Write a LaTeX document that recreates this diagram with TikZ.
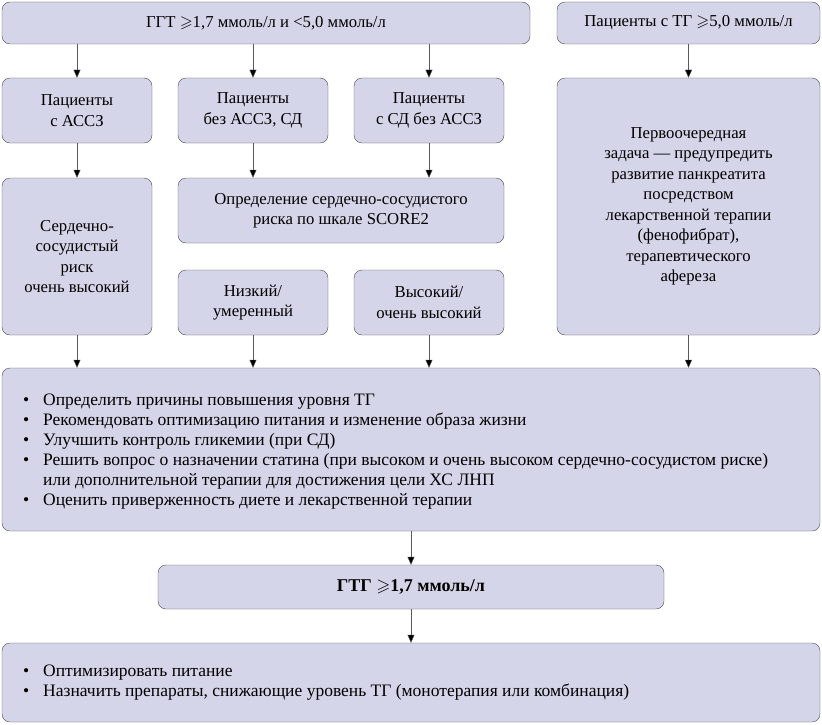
\documentclass[tikz,border=0pt]{standalone}
\usepackage{amssymb}
\usepackage{fontspec}
\setmainfont{Liberation Serif}
\usetikzlibrary{arrows.meta,positioning}
\definecolor{boxfill}{RGB}{212,213,232}
\newcommand{\bul}{\makebox[20pt][l]{\textbullet}}
\newcommand{\geqs}{\ensuremath{\geqslant}}

\begin{document}
\begin{tikzpicture}[x=1pt,y=-1pt,font=\fontsize{16.7}{20.5}\selectfont,
  box/.style={draw=black!70,rounded corners=8pt,fill=boxfill,align=center,inner sep=2pt,minimum width=#1},
  box/.default=150pt,
  lst/.style={anchor=west,align=left,inner sep=0pt,font=\fontsize{17.5}{20}\selectfont},
  arr/.style={draw=black!65,-{Triangle[length=8pt,width=7pt,fill=black]}}]
  \useasboundingbox (0,0) rectangle (822,725);
  % ---------- row 1
  \node[box=528pt,minimum height=42pt] (top) at (266,23) {ГГТ \geqs1,7 ммоль/л и <5,0 ммоль/л};
  \node[box=263pt,minimum height=42pt] (tgh) at (688.5,23) {Пациенты с ТГ \geqs5,0 ммоль/л};
  % ---------- row 2
  \node[box,minimum height=65pt] (assz) at (77,110.5) {Пациенты\\с АССЗ};
  \node[box,minimum height=65pt] (noassz) at (253,110.5) {Пациенты\\без АССЗ, СД};
  \node[box,minimum height=65pt] (sd) at (429,110.5) {Пациенты\\с СД без АССЗ};
  \node[box=263pt,minimum height=257pt] (prio) at (688.5,206.5) {Первоочередная\\задача — предупредить\\развитие панкреатита\\посредством\\лекарственной терапии\\(фенофибрат),\\терапевтического\\афереза};
  % ---------- rows 3 and 4
  \node[box,minimum height=157pt] (vhigh) at (77,256.5) {Сердечно-\\сосудистый\\риск\\очень высокий};
  \node[box=326pt,minimum height=65pt] (score) at (341,210.5) {Определение сердечно-сосудистого\\риска по шкале SCORE2};
  \node[box,minimum height=65pt] (low) at (253,302.5) {Низкий/\\умеренный};
  \node[box,minimum height=65pt] (high) at (429,302.5) {Высокий/\\очень высокий};
  % ---------- actions
  \node[box=818pt,minimum height=163pt] (acts) at (411,449.5) {};
  \node[lst] (actlist) at (23,452) {\bul Определить причины повышения уровня ТГ\\
    \bul Рекомендовать оптимизацию питания и изменение образа жизни\\
    \bul Улучшить контроль гликемии (при СД)\\
    \bul Решить вопрос о назначении статина (при высоком и очень высоком сердечно-сосудистом риске)\\
    \hspace*{20pt}или дополнительной терапии для достижения цели ХС ЛНП\\
    \bul Оценить приверженность диете и лекарственной терапии};
  \node[box=506pt,minimum height=44pt,font=\fontsize{18}{20}\selectfont\bfseries] (ttg) at (411,587) {ГТГ \geqs1,7 ммоль/л};
  \node[box=818pt,minimum height=79pt] (final) at (411,682.5) {};
  \node[lst] (finlist) at (23,683) {\bul Оптимизировать питание\\
    \bul Назначить препараты, снижающие уровень ТГ (монотерапия или комбинация)};
  % ---------- arrows
  \draw[arr] (top.south -| assz.north) -- (assz.north);
  \draw[arr] (top.south -| noassz.north) -- (noassz.north);
  \draw[arr] (top.south -| sd.north) -- (sd.north);
  \draw[arr] (tgh) -- (prio);
  \draw[arr] (assz) -- (vhigh);
  \draw[arr] (noassz.south) -- (score.north -| noassz.south);
  \draw[arr] (sd.south) -- (score.north -| sd.south);
  \draw[arr] (vhigh.south) -- (acts.north -| vhigh.south);
  \draw[arr] (low.south) -- (acts.north -| low.south);
  \draw[arr] (high.south) -- (acts.north -| high.south);
  \draw[arr] (prio.south) -- (acts.north -| prio.south);
  \draw[arr] (acts.south -| ttg.north) -- (ttg.north);
  \draw[arr] (ttg) -- (final);
\end{tikzpicture}
\end{document}
